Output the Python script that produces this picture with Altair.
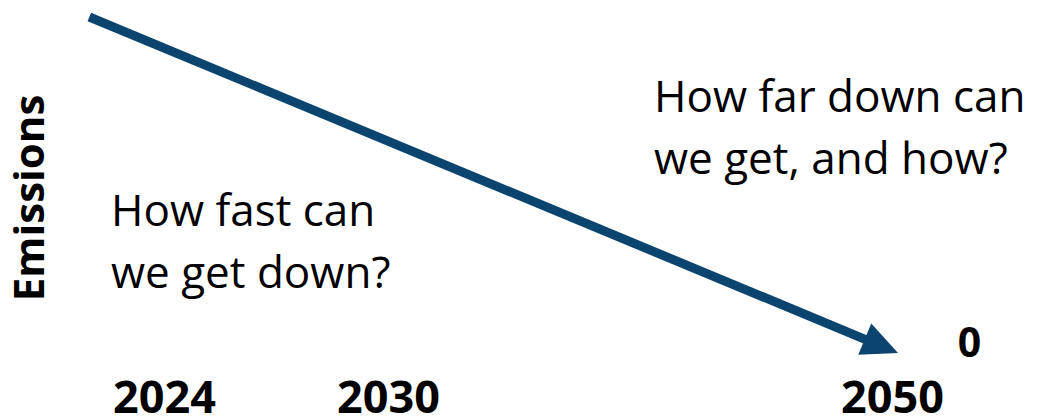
import altair as alt
import pandas as pd

# ---- data ----
line_years = [2022, 2050]
line_emissions = [100, 0]
tick_years = [2024, 2030, 2050]
note_texts = ["How fast can\nwe get down?", "How far down can\nwe get, and how?"]
note_years = [2022.58, 2040.43]
note_values = [37.8, 71.8]
zero_text = ["0"]
zero_years = [2052.8]
zero_values = [0]

LINE_COLOR = "#0B456F"
FONT = "Open Sans"

line_df = pd.DataFrame({"year": line_years, "value": line_emissions})
head_df = pd.DataFrame({"year": line_years[-1:], "value": line_emissions[-1:]})
note_df = pd.DataFrame({"year": note_years, "value": note_values, "label": note_texts})
zero_df = pd.DataFrame({"year": zero_years, "value": zero_values, "label": zero_text})

x_scale = alt.Scale(domain=tick_years, range=[156, 380, 890], nice=False, zero=False)
y_scale = alt.Scale(domain=[0, 100], range=[345, 9], nice=False, zero=False)

x_enc = alt.X(
    "year:Q",
    scale=x_scale,
    axis=alt.Axis(
        values=tick_years,
        format="d",
        title=None,
        grid=False,
        domain=False,
        ticks=False,
        tickSize=0,
        labelPadding=0,
        labelFont=FONT,
        labelFontSize=45,
        labelFontWeight="bold",
        labelColor="#000000",
        labelFlush=False,
        labelOverlap=False,
        labelBound=False,
        labelOffset={"condition": {"test": "datum.value == 2050", "value": -6}, "value": 0},
    ),
)
y_enc = alt.Y(
    "value:Q",
    scale=y_scale,
    axis=alt.Axis(
        title="Emissions",
        labels=False,
        grid=False,
        domain=False,
        ticks=False,
        titleFont=FONT,
        titleFontSize=42,
        titleFontWeight="bold",
        titleColor="#000000",
        titleAngle=270,
        titleAlign="center",
        titleBaseline="alphabetic",
        titleX=35,
        titleY=189.5,
    ),
)

shaft = alt.Chart(line_df).mark_line(
    color=LINE_COLOR, strokeWidth=9, strokeCap="butt", strokeDash=[855, 3000]
).encode(x=x_enc, y=y_enc)

head = alt.Chart(head_df).mark_point(
    shape="M0,0L-2,-0.94L-2,0.94Z",
    size=1296,
    angle=22.6,
    filled=True,
    opacity=1,
    color=LINE_COLOR,
    strokeWidth=0,
).encode(x=x_enc, y=y_enc)

notes = alt.Chart(note_df).mark_text(
    font=FONT, fontSize=44, align="left", baseline="alphabetic",
    lineBreak="\n", lineHeight=62, color="#000000",
).encode(x=x_enc, y=y_enc, text="label:N")

zero = alt.Chart(zero_df).mark_text(
    font=FONT, fontSize=41, fontWeight="bold", align="center", baseline="alphabetic",
    dy=4, color="#000000",
).encode(x=x_enc, y=y_enc, text="label:N")

chart = alt.layer(shaft, head, notes, zero).properties(
    width=1032,
    height=368,
    autosize=alt.AutoSizeParams(type="none"),
    padding={"left": 0, "top": 0, "right": 0, "bottom": 38},
    background="#ffffff",
).configure_view(stroke=None)

chart.save("out.html", embed_options={"renderer": "svg", "actions": False})
